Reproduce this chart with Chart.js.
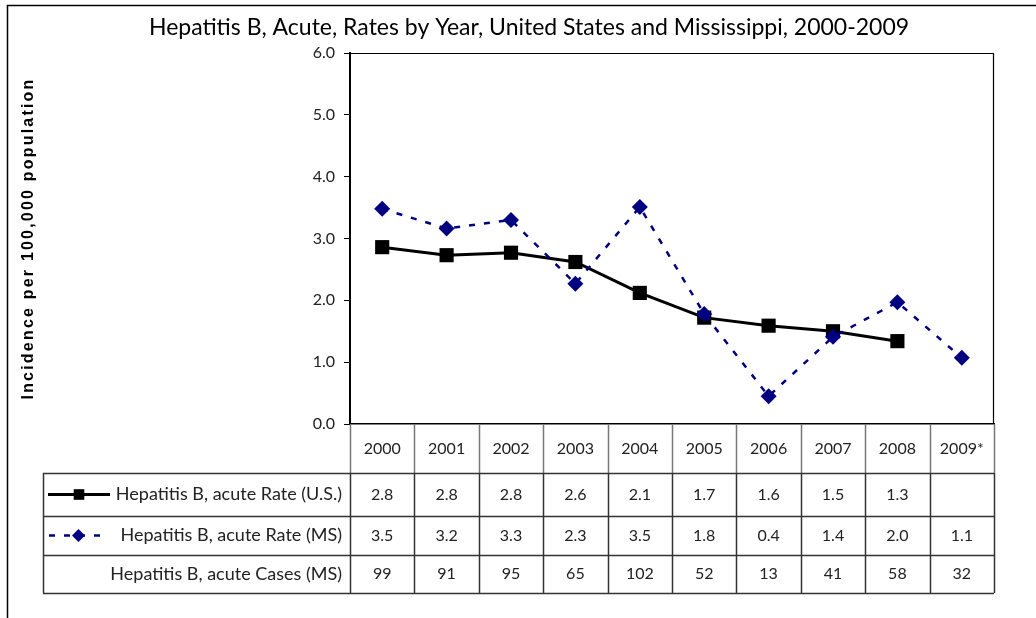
<!DOCTYPE html>
<html>
<head>
<meta charset="utf-8">
<title>Hepatitis B, Acute, Rates by Year</title>
<script src="https://cdn.jsdelivr.net/npm/chart.js@4/dist/chart.umd.min.js"></script>
<style>
  html, body { margin: 0; padding: 0; background: #fff; }
</style>
</head>
<body>
<canvas id="hepChart" width="1036" height="618"></canvas>
<script>
const years = ["2000", "2001", "2002", "2003", "2004", "2005", "2006", "2007", "2008", "2009*"];

// plotted rates
const usRate = [2.86, 2.73, 2.77, 2.62, 2.12, 1.72, 1.59, 1.50, 1.34, null];
const msRate = [3.48, 3.16, 3.30, 2.27, 3.51, 1.78, 0.45, 1.41, 1.97, 1.07];

// values printed in the data table
const usRateText = ["2.8", "2.8", "2.8", "2.6", "2.1", "1.7", "1.6", "1.5", "1.3", ""];
const msRateText = ["3.5", "3.2", "3.3", "2.3", "3.5", "1.8", "0.4", "1.4", "2.0", "1.1"];
const msCases = ["99", "91", "95", "65", "102", "52", "13", "41", "58", "32"];

const rowLabels = [
  "Hepatitis B, acute Rate (U.S.)",
  "Hepatitis B, acute Rate (MS)",
  "Hepatitis B, acute Cases (MS)",
];

const chartTitle = "Hepatitis B, Acute, Rates by Year, United States and Mississippi, 2000-2009";

const cellFont = "16px Lato";
const labelFont = "18px Lato";
const textColor = "#222";

const usStyle = {
  borderColor: "#000000",
  pointBackgroundColor: "#000000",
  borderWidth: 3,
  borderDash: [],
  pointStyle: "rect",
};
const msStyle = {
  borderColor: "#000080",
  pointBackgroundColor: "#000080",
  borderWidth: 2.5,
  borderDash: [6, 9],
  pointStyle: "rectRot",
};

// outer frame, title and plot box (top/right)
const framePlugin = {
  id: "frame",
  beforeDraw(chart) {
    const ctx = chart.ctx;
    ctx.save();
    ctx.fillStyle = "#fff";
    ctx.fillRect(0, 0, chart.width, chart.height);
    ctx.strokeStyle = "#000";
    ctx.lineWidth = 1.5;
    ctx.beginPath();
    ctx.moveTo(7.5, chart.height);
    ctx.lineTo(7.5, 5.5);
    ctx.lineTo(chart.width, 5.5);
    ctx.stroke();

    ctx.fillStyle = "#000";
    ctx.font = "23px Lato";
    ctx.textAlign = "center";
    ctx.textBaseline = "middle";
    ctx.fillText(chartTitle, 529, 28);
    ctx.restore();
  },
  afterDatasetsDraw(chart) {
    const { ctx, chartArea: a } = chart;
    ctx.save();
    ctx.strokeStyle = "#000";
    ctx.lineWidth = 1.2;
    ctx.beginPath();
    ctx.moveTo(a.left, a.top + 0.5);
    ctx.lineTo(a.right - 0.5, a.top + 0.5);
    ctx.lineTo(a.right - 0.5, a.bottom);
    ctx.stroke();
    ctx.restore();
  },
};

function drawKey(ctx, style, x0, x1, y, radius) {
  ctx.save();
  ctx.strokeStyle = style.borderColor;
  ctx.lineWidth = style.borderWidth;
  ctx.setLineDash(style.borderDash);
  ctx.beginPath();
  ctx.moveTo(x0, y);
  ctx.lineTo(x1, y);
  ctx.stroke();
  ctx.setLineDash([]);
  ctx.fillStyle = style.pointBackgroundColor;
  Chart.helpers.drawPoint(ctx, { pointStyle: style.pointStyle, radius: radius, borderWidth: 0, rotation: 0 }, (x0 + x1) / 2, y);
  ctx.restore();
}

// data table under the plot, columns taken from the x scale
const tablePlugin = {
  id: "dataTable",
  afterDraw(chart) {
    const { ctx, chartArea: a } = chart;
    const x = chart.scales.x;
    const half = (x.getPixelForValue(1) - x.getPixelForValue(0)) / 2;
    const tableLeft = 43;
    const rowTops = [a.bottom, a.bottom + 49, a.bottom + 92, a.bottom + 131];
    const tableBottom = a.bottom + 169;

    ctx.save();
    ctx.lineWidth = 1.5;

    // header row verticals
    ctx.strokeStyle = "#777";
    ctx.beginPath();
    for (let i = 0; i <= years.length; i++) {
      const bx = Math.round(x.getPixelForValue(0) - half + i * 2 * half) + 0.5;
      ctx.moveTo(bx, rowTops[0]);
      ctx.lineTo(bx, rowTops[1]);
    }
    ctx.stroke();

    // body grid
    ctx.strokeStyle = "#333";
    ctx.beginPath();
    for (let r = 1; r < rowTops.length; r++) {
      ctx.moveTo(tableLeft, Math.round(rowTops[r]) + 0.5);
      ctx.lineTo(a.right, Math.round(rowTops[r]) + 0.5);
    }
    ctx.moveTo(tableLeft, tableBottom + 0.5);
    ctx.lineTo(a.right, tableBottom + 0.5);
    ctx.moveTo(tableLeft + 0.5, rowTops[1]);
    ctx.lineTo(tableLeft + 0.5, tableBottom);
    for (let i = 0; i <= years.length; i++) {
      const bx = Math.round(x.getPixelForValue(0) - half + i * 2 * half) + 0.5;
      ctx.moveTo(bx, rowTops[1]);
      ctx.lineTo(bx, tableBottom);
    }
    ctx.stroke();

    // cell text
    ctx.font = cellFont;
    ctx.fillStyle = textColor;
    ctx.textAlign = "center";
    ctx.textBaseline = "middle";
    const rows = [years, usRateText, msRateText, msCases];
    const rowBottoms = [rowTops[1], rowTops[2], rowTops[3], tableBottom];
    rows.forEach((vals, r) => {
      const cy = (rowTops[r] + rowBottoms[r]) / 2;
      vals.forEach((v, i) => ctx.fillText(v, x.getPixelForValue(i), cy));
    });

    // row labels
    ctx.font = labelFont;
    ctx.textAlign = "right";
    rowLabels.forEach((lab, r) => {
      const cy = (rowTops[r + 1] + rowBottoms[r + 1]) / 2;
      ctx.fillText(lab, a.left - 8, cy);
    });
    ctx.restore();

    drawKey(ctx, usStyle, 48, 110, (rowTops[1] + rowTops[2]) / 2, 7.5);
    drawKey(ctx, msStyle, 49, 108, (rowTops[2] + rowTops[3]) / 2, 6.5);
  },
};

// the axis title in the original is letter-spaced
const yTitleSpacing = {
  id: "yTitleSpacing",
  afterLayout(chart) {
    const s = chart.scales.y;
    if (s._spaced) return;
    const orig = s.drawTitle;
    s.drawTitle = function () {
      chart.ctx.letterSpacing = "2.2px";
      orig.call(this);
      chart.ctx.letterSpacing = "0px";
    };
    s._spaced = true;
  },
};

const ctx = document.getElementById("hepChart").getContext("2d");

const chart = new Chart(ctx, {
  type: "line",
  data: {
    labels: years,
    datasets: [
      {
        label: rowLabels[0],
        data: usRate,
        ...usStyle,
        backgroundColor: "#000000",
        pointRadius: 10,
        pointHoverRadius: 10,
        pointBorderWidth: 0,
        tension: 0,
        order: 2,
      },
      {
        label: rowLabels[1],
        data: msRate,
        ...msStyle,
        backgroundColor: "#000080",
        pointRadius: 8,
        pointHoverRadius: 8,
        pointBorderWidth: 0,
        tension: 0,
        order: 1,
      },
    ],
  },
  options: {
    responsive: false,
    animation: false,
    layout: { padding: { left: 0, right: 42, top: 53, bottom: 0 } },
    plugins: {
      legend: { display: false },
      tooltip: { enabled: false },
      title: { display: false },
    },
    scales: {
      x: {
        offset: true,
        grid: { display: false, offset: true },
        border: { display: true, color: "#000", width: 1.5 },
        ticks: { display: false },
        afterFit(scale) {
          scale.height = 194;
        },
      },
      y: {
        min: 0,
        max: 6,
        ticks: {
          stepSize: 1,
          color: textColor,
          font: { family: "Lato", size: 16 },
          padding: 9,
          callback: (v) => v.toFixed(1),
        },
        grid: { drawOnChartArea: false, drawTicks: true, tickLength: 6, color: "#000" },
        border: { display: true, color: "#000", width: 2 },
        title: {
          display: true,
          text: "Incidence per 100,000 population",
          color: "#000",
          font: { family: "Liberation Sans", size: 16, weight: "bold" },
          padding: { top: 19, bottom: 0 },
        },
        afterFit(scale) {
          scale.width = 350;
        },
      },
    },
  },
  plugins: [framePlugin, tablePlugin, yTitleSpacing],
});
</script>
</body>
</html>
